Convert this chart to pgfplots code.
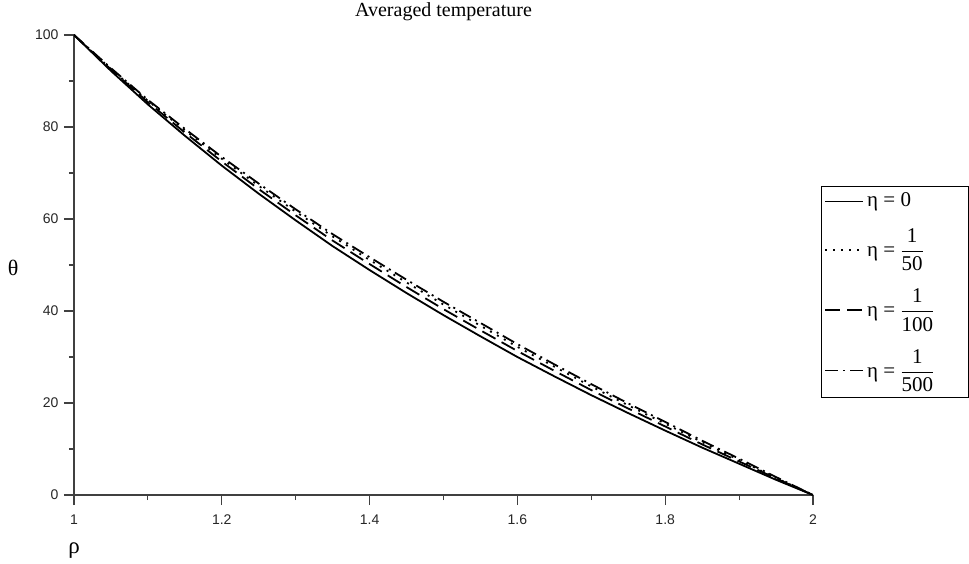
\documentclass[border=0pt]{standalone}
\usepackage{amsmath}
\usepackage{fontspec}
\setmainfont{Liberation Serif}
\newfontfamily\sansf{Liberation Sans}
\usepackage{pgfplots}
\pgfplotsset{compat=1.18}
\newcommand\eq{\hspace{0.25em}=\hspace{0.25em}}
\begin{document}
\begin{tikzpicture}
\path[use as bounding box] (-74pt,-68pt) rectangle (895pt,495pt);
\begin{axis}[
  scale only axis, width=739pt, height=460pt,
  xmin=1, xmax=2, ymin=0, ymax=100,
  axis x line*=bottom, axis y line*=left,
  axis line style={black!75, line width=1.1pt},
  xtick={1,1.2,1.4,1.6,1.8,2},
  xticklabels={1,1.2,1.4,1.6,1.8,2},
  minor xtick={1.1,1.3,1.5,1.7,1.9},
  ytick={0,20,40,60,80,100},
  yticklabels={0,20,40,60,80,100},
  minor ytick={10,30,50,70,90},
  tick align=outside,
  major tick length=10pt, minor tick length=5pt,
  tick style={black!75, line width=1.1pt},
  ticklabel style={font=\fontsize{14}{16}\sansf, text=black!85},
  xticklabel style={yshift=-6pt},
  yticklabel style={xshift=-2pt},
  title={Averaged temperature},
  title style={font=\fontsize{20}{22}\selectfont, at={(axis description cs:0.5,1)}, anchor=base, yshift=12pt, inner sep=0pt},
  xlabel={ρ},
  xlabel style={font=\fontsize{23}{25}\selectfont, at={(axis description cs:0,0)}, anchor=center, yshift=-56pt},
  ylabel={θ},
  ylabel style={font=\fontsize{22}{24}\selectfont, at={(axis description cs:-0.0825,0.493)}, anchor=center, rotate=-90},
  legend style={at={(axis description cs:1.0108,0.672)}, anchor=north west, draw=black, line width=0.8pt,
    font=\fontsize{21}{24}\selectfont, inner xsep=3pt, inner ysep=5pt, row sep=16pt,
    nodes={text depth=, text width=95pt, inner xsep=3pt, inner ysep=1pt}},
  legend cell align=left,
  legend image code/.code={\draw[#1, line width=1.8pt] (0pt,0pt) -- (38pt,0pt);},
  every axis plot/.append style={line width=1.8pt, black},
]
\addplot[solid] coordinates {
(1,100) (1.05,92.2) (1.1,84.9) (1.15,78.1) (1.2,71.6) (1.25,65.5) (1.3,59.7) (1.35,54.1) (1.4,48.9)
(1.45,43.9) (1.5,39.1) (1.55,34.5) (1.6,30.0) (1.65,25.8) (1.7,21.7) (1.75,17.8) (1.8,14.0)
(1.85,10.3) (1.9,6.8) (1.95,3.3) (2,0)};
\addlegendentry{η\eq 0}
\addplot[dash pattern=on 2pt off 6pt] coordinates {
(1,100) (1.05,92.6) (1.1,85.7) (1.15,79.3) (1.2,73.1) (1.25,67.2) (1.3,61.6) (1.35,56.2) (1.4,51.1)
(1.45,46.2) (1.5,41.4) (1.55,36.8) (1.6,32.2) (1.65,27.9) (1.7,23.6) (1.75,19.5) (1.8,15.5)
(1.85,11.5) (1.9,7.6) (1.95,3.7) (2,0)};
\addlegendentry{η\eq $\dfrac{\text{1}}{\text{50}}$}
\addplot[dash pattern=on 15pt off 7pt] coordinates {
(1,100) (1.05,92.5) (1.1,85.4) (1.15,78.8) (1.2,72.5) (1.25,66.5) (1.3,60.8) (1.35,55.3) (1.4,50.2)
(1.45,45.2) (1.5,40.4) (1.55,35.8) (1.6,31.3) (1.65,27.0) (1.7,22.8) (1.75,18.8) (1.8,14.9)
(1.85,11.0) (1.9,7.3) (1.95,3.6) (2,0)};
\addlegendentry{η\eq $\dfrac{\text{1}}{\text{100}}$}
\addplot[dash pattern=on 13pt off 5pt on 2pt off 5pt] coordinates {
(1,100) (1.05,92.8) (1.1,85.9) (1.15,79.6) (1.2,73.5) (1.25,67.7) (1.3,62.1) (1.35,56.7) (1.4,51.7)
(1.45,46.8) (1.5,42.0) (1.55,37.4) (1.6,32.8) (1.65,28.4) (1.7,24.1) (1.75,19.9) (1.8,15.9)
(1.85,11.8) (1.9,7.9) (1.95,3.9) (2,0)};
\addlegendentry{η\eq $\dfrac{\text{1}}{\text{500}}$}
\end{axis}
\end{tikzpicture}
\end{document}
